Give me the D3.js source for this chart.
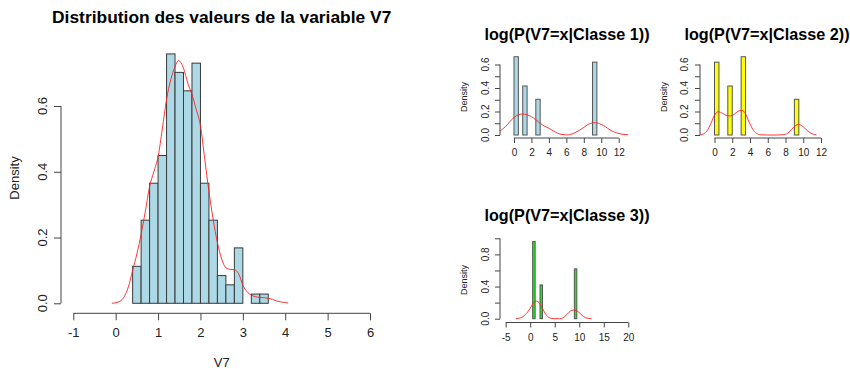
<!DOCTYPE html>
<html>
<head>
<meta charset="utf-8">
<script src="https://cdn.jsdelivr.net/npm/d3@7"></script>
<style>
  html, body { margin: 0; padding: 0; background: #fff; }
  svg { display: block; font-family: "Liberation Sans", Arial, sans-serif; }
</style>
</head>
<body>
<svg id="chart" width="850" height="369"></svg>
<script>
// ---- Histogram of V7 (all classes) ----
const mainBreaks = [0.4, 0.6, 0.8, 1.0, 1.2, 1.4, 1.6, 1.8, 2.0, 2.2, 2.4, 2.6, 2.8, 3.0, 3.2, 3.4, 3.6];
const mainDensity = [0.1124, 0.2528, 0.3652, 0.4494, 0.7584, 0.7022, 0.6461, 0.7303,
                     0.3652, 0.2528, 0.0843, 0.0562, 0.1685, 0, 0.0281, 0.0281];
const mainKdeX = [-0.09, 0.1, 0.2, 0.3, 0.4, 0.5, 0.6, 0.7, 0.8, 0.9, 1.0, 1.1, 1.2, 1.3, 1.4, 1.48,
                  1.55, 1.6, 1.7, 1.8, 1.9, 2.0, 2.1, 2.2, 2.3, 2.4, 2.5, 2.6, 2.7, 2.8, 2.9, 3.0,
                  3.1, 3.2, 3.3, 3.4, 3.5, 3.6, 3.7, 3.8, 3.9, 4.07];
const mainKdeY = [0, 0.006, 0.02, 0.05, 0.1, 0.15, 0.21, 0.28, 0.355, 0.4, 0.446, 0.53, 0.62, 0.68, 0.72, 0.738,
                  0.73, 0.715, 0.67, 0.635, 0.59, 0.54, 0.44, 0.34, 0.255, 0.185, 0.135, 0.108, 0.103, 0.102, 0.09, 0.055,
                  0.035, 0.025, 0.02, 0.018, 0.017, 0.015, 0.012, 0.007, 0.004, 0.001];
const mainXTicks = [-1, 0, 1, 2, 3, 4, 5, 6];
const mainYTicks = [0, 0.2, 0.4, 0.6];

// ---- Per-class histograms (bin width 0.5) ----
const class1Breaks = d3.range(0, 9.51, 0.5);
const class1Density = [0.666, 0, 0.417, 0, 0, 0.304, 0, 0, 0, 0, 0, 0, 0, 0, 0, 0, 0, 0, 0.62];
const class1KdeX = [-1.6, -1, -0.5, 0, 0.5, 0.88, 1.5, 2, 2.5, 3, 3.5, 4, 4.5, 5, 5.5, 6, 6.5, 7,
                    7.5, 8, 8.5, 9.3, 10, 10.5, 11, 11.5, 12, 12.5, 13.1];
const class1KdeY = [0.034, 0.07, 0.11, 0.15, 0.172, 0.179, 0.172, 0.156, 0.13, 0.1, 0.075, 0.057, 0.035, 0.015, 0.004, 0.001, 0.005, 0.02,
                    0.04, 0.065, 0.09, 0.105, 0.09, 0.07, 0.043, 0.025, 0.012, 0.005, 0.002];

const class2Breaks = d3.range(0, 9.51, 0.5);
const class2Density = [0.62, 0, 0, 0.417, 0, 0, 0.666, 0, 0, 0, 0, 0, 0, 0, 0, 0, 0, 0, 0.304];
const class2KdeX = [-1.63, -1.2, -0.8, -0.4, 0, 0.43, 0.9, 1.3, 1.75, 2.2, 2.6, 3.06, 3.5, 3.9, 4.3, 4.7, 5.2,
                    6, 7, 7.9, 8.4, 8.9, 9.45, 10, 10.5, 11, 11.5];
const class2KdeY = [0, 0.01, 0.04, 0.1, 0.17, 0.198, 0.185, 0.168, 0.162, 0.175, 0.2, 0.21, 0.18, 0.11, 0.05, 0.015, 0.002,
                    0, 0, 0.003, 0.025, 0.065, 0.091, 0.07, 0.035, 0.01, 0.001];

const class3Breaks = d3.range(0.5, 9.51, 0.5);
const class3Density = [0.96, 0, 0, 0.42, 0, 0, 0, 0, 0, 0, 0, 0, 0, 0, 0, 0, 0, 0.62];
const class3KdeX = [-2.9, -2, -1, 0, 0.6, 1.18, 1.8, 2.4, 3, 3.6, 4.4, 5, 6, 6.4, 7, 7.6, 8.2, 8.8, 9.4,
                    10, 10.6, 11.2, 12, 12.5];
const class3KdeY = [0, 0.01, 0.05, 0.13, 0.19, 0.22, 0.2, 0.14, 0.07, 0.025, 0.003, 0, 0, 0.003, 0.025, 0.06, 0.095, 0.108, 0.1,
                    0.075, 0.04, 0.015, 0.003, 0];

const smallXTicks12 = [0, 2, 4, 6, 8, 10, 12];
const smallYTicks06 = [0, 0.1, 0.2, 0.3, 0.4, 0.5, 0.6];
const smallYLabels06 = [0, 0.2, 0.4, 0.6];
const class3XTicks = [-5, 0, 5, 10, 15, 20];
const class3YTicks = [0, 0.2, 0.4, 0.6, 0.8, 1.0];
const class3YLabels = [0, 0.4, 0.8];

const svg = d3.select("#chart");
const AXIS = "#444";
const TEXT = "#222";

function panel(opt) {
  const g = svg.append("g");
  const x = d3.scaleLinear().domain(opt.xDomain).range(opt.xRange);
  const y = d3.scaleLinear().domain(opt.yDomain).range(opt.yRange);

  // bars
  const bins = opt.density.map((d, i) => ({ x0: opt.breaks[i], x1: opt.breaks[i + 1], d }));
  g.selectAll("rect.bar").data(bins).enter().append("rect")
    .attr("class", "bar")
    .attr("x", b => x(b.x0))
    .attr("width", b => x(b.x1) - x(b.x0))
    .attr("y", b => y(b.d))
    .attr("height", b => y(0) - y(b.d))
    .attr("fill", opt.fill)
    .attr("stroke", opt.barStroke)
    .attr("stroke-width", 1);

  // density curve
  const pts = opt.kdeX.map((v, i) => [v, opt.kdeY[i]]);
  g.append("path")
    .datum(pts)
    .attr("fill", "none")
    .attr("stroke", "#ff2020")
    .attr("stroke-opacity", 0.9)
    .attr("stroke-width", 1)
    .attr("d", d3.line().x(p => x(p[0])).y(p => y(p[1])).curve(d3.curveMonotoneX));

  // x axis (plain hyphen for negatives)
  const xa = g.append("g").attr("transform", `translate(0,${opt.xAxisY})`)
    .call(d3.axisBottom(x).tickValues(opt.xTicks).tickSize(opt.tick).tickPadding(opt.xPad)
      .tickFormat(d => String(d)));
  xa.select(".domain").attr("d", `M${x(opt.xTicks[0])},0H${x(opt.xTicks[opt.xTicks.length - 1])}`);
  xa.selectAll("line, path").attr("stroke", AXIS);
  xa.selectAll("text").attr("fill", TEXT).style("font-size", opt.fs + "px");
  xa.attr("font-family", null);

  // y axis
  const ya = g.append("g").attr("transform", `translate(${opt.yAxisX},0)`)
    .call(d3.axisLeft(y).tickValues(opt.yTicks).tickSize(opt.tick).tickFormat(""));
  ya.select(".domain").attr("d", `M0,${y(opt.yTicks[0])}V${y(opt.yTicks[opt.yTicks.length - 1])}`);
  ya.selectAll("line, path").attr("stroke", AXIS);
  ya.attr("font-family", null);
  g.selectAll("text.ylab").data(opt.yLabels).enter().append("text")
    .attr("class", "ylab")
    .attr("transform", d => `translate(${opt.yLabX},${y(d)}) rotate(-90)`)
    .attr("text-anchor", "middle")
    .attr("dy", "0.35em")
    .attr("fill", TEXT)
    .style("font-size", opt.fs + "px")
    .text(d => d3.format(".1f")(d));

  // axis titles
  g.append("text")
    .attr("transform", `translate(${opt.densX},${opt.densY}) rotate(-90)`)
    .attr("text-anchor", "middle").attr("dy", "0.35em")
    .attr("fill", TEXT).style("font-size", opt.labFs + "px")
    .text("Density");
  if (opt.xLabel) {
    g.append("text")
      .attr("x", opt.titleX).attr("y", opt.xLabelY)
      .attr("text-anchor", "middle").attr("dy", "0.35em")
      .attr("fill", TEXT).style("font-size", opt.labFs + "px")
      .text(opt.xLabel);
  }
  g.append("text")
    .attr("x", opt.titleX).attr("y", opt.titleY)
    .attr("text-anchor", "middle")
    .attr("fill", "#000").style("font-size", opt.titleFs + "px").style("font-weight", "bold")
    .text(opt.title);
}

panel({
  xDomain: [-1, 6], xRange: [73.3, 370], yDomain: [0, 0.6], yRange: [303.3, 106],
  breaks: mainBreaks, density: mainDensity, kdeX: mainKdeX, kdeY: mainKdeY,
  fill: "#add8e6", barStroke: "#3a3a3a",
  xTicks: mainXTicks, yTicks: mainYTicks, yLabels: mainYTicks,
  xAxisY: 313.3, yAxisX: 61, tick: 7, xPad: 7, fs: 13, yLabX: 42,
  densX: 14, densY: 178, labFs: 13, xLabel: "V7", xLabelY: 362,
  title: "Distribution des valeurs de la variable V7", titleX: 221.7, titleY: 23, titleFs: 17.4
});

panel({
  xDomain: [0, 12], xRange: [514, 618.7], yDomain: [0, 0.6], yRange: [135, 64.5],
  breaks: class1Breaks, density: class1Density, kdeX: class1KdeX, kdeY: class1KdeY,
  fill: "#add8e6", barStroke: "#555",
  xTicks: smallXTicks12, yTicks: smallYTicks06, yLabels: smallYLabels06,
  xAxisY: 138, yAxisX: 500, tick: 5, xPad: 6, fs: 10, yLabX: 485,
  densX: 463.5, densY: 97, labFs: 9,
  title: "log(P(V7=x|Classe 1))", titleX: 567, titleY: 40, titleFs: 16.2
});

panel({
  xDomain: [0, 12], xRange: [714.5, 821], yDomain: [0, 0.6], yRange: [135, 64.5],
  breaks: class2Breaks, density: class2Density, kdeX: class2KdeX, kdeY: class2KdeY,
  fill: "#ffff00", barStroke: "#555",
  xTicks: smallXTicks12, yTicks: smallYTicks06, yLabels: smallYLabels06,
  xAxisY: 138, yAxisX: 700, tick: 5, xPad: 6, fs: 10, yLabX: 684,
  densX: 663.5, densY: 97, labFs: 9,
  title: "log(P(V7=x|Classe 2))", titleX: 767, titleY: 40, titleFs: 16.2
});

panel({
  xDomain: [-5, 20], xRange: [505.7, 628.3], yDomain: [0, 1.0], yRange: [318.7, 238.3],
  breaks: class3Breaks, density: class3Density, kdeX: class3KdeX, kdeY: class3KdeY,
  fill: "#00ff00", barStroke: "#555",
  xTicks: class3XTicks, yTicks: class3YTicks, yLabels: class3YLabels,
  xAxisY: 322.5, yAxisX: 500, tick: 5, xPad: 6, fs: 10, yLabX: 485,
  densX: 463.5, densY: 280, labFs: 9,
  title: "log(P(V7=x|Classe 3))", titleX: 567, titleY: 221, titleFs: 16.2
});
</script>
</body>
</html>
